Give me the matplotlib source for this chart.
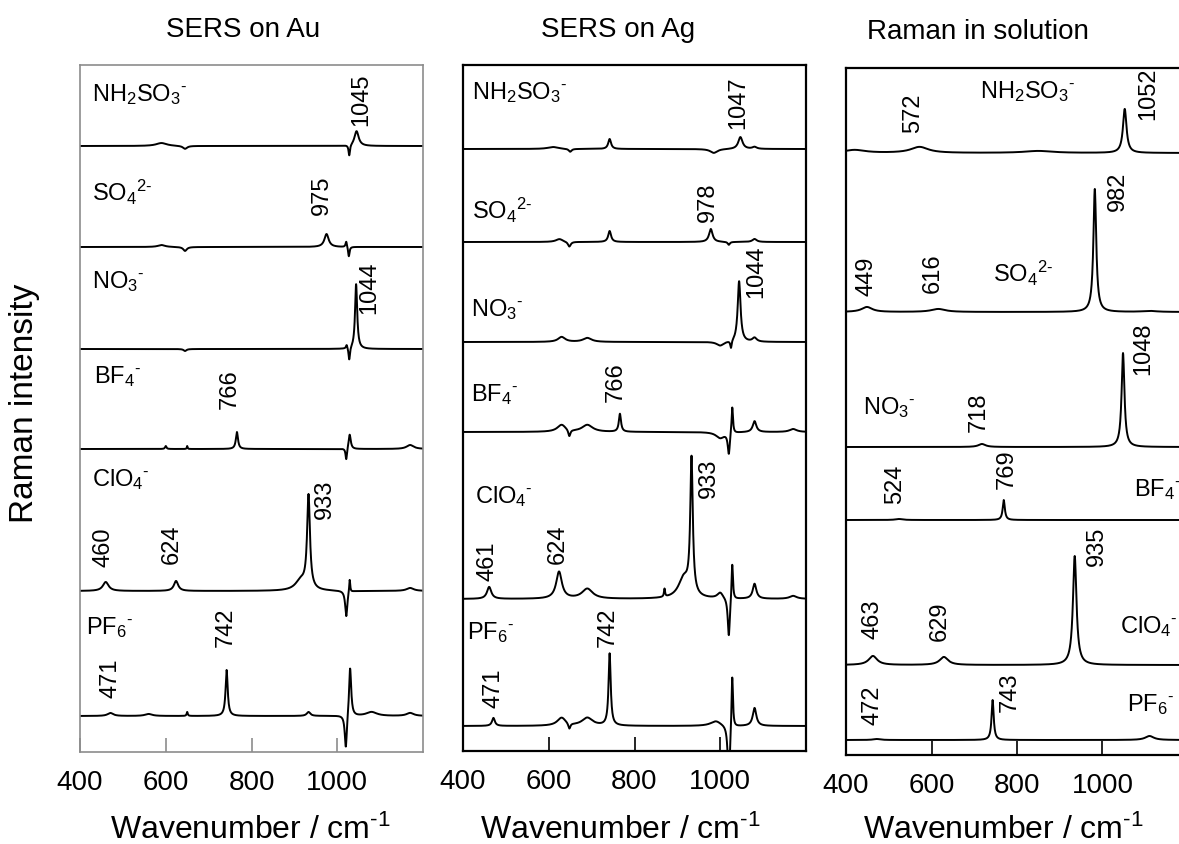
import numpy as np
import matplotlib.pyplot as plt

plt.rcParams['font.family'] = ['Liberation Sans', 'DejaVu Sans']
plt.rcParams['mathtext.fontset'] = 'custom'
plt.rcParams['mathtext.rm'] = 'Liberation Sans'
plt.rcParams['mathtext.it'] = 'Liberation Sans:italic'
plt.rcParams['mathtext.bf'] = 'Liberation Sans:bold'

W, H = 1179, 845

wavenumber = np.arange(400, 1200.5, 0.5)

names = [r'NH$_2$SO$_3$$^{\text{-}}$', r'SO$_4$$^{2\text{-}}$', r'NO$_3$$^{\text{-}}$',
         r'BF$_4$$^{\text{-}}$', r'ClO$_4$$^{\text{-}}$', r'PF$_6$$^{\text{-}}$']

# bands as (position / cm-1, height, half width); negative height = dip
au_peaks = [
    [(1045, 15, 6), (1028, -11, 2), (590, 3, 15), (645, -3, 6)],
    [(975, 13, 6), (1021, 6, 2), (1027, -10, 2), (645, -4, 5), (590, 2, 10)],
    [(1044, 65, 3), (1022, 4, 2), (1028, -13, 2), (645, -2, 4)],
    [(766, 17, 3), (1021, -12, 2), (1029, 15, 3), (600, 3, 2), (650, 3, 1), (1170, 4, 10)],
    [(933, 93, 4), (915, 10, 15), (460, 9, 8), (624, 10, 6), (1021, -26, 3), (1029, 14, 1.5), (1170, 3, 10)],
    [(742, 46, 3), (471, 3, 8), (560, 2, 10), (650, 4, 1.5), (933, 4, 5), (1020, -35, 3),
     (1030, 50, 3), (1080, 4, 15), (1170, 3, 10)],
]
au_bands = [[1045], [975], [1044], [766], [460, 624, 933], [471, 742]]

ag_peaks = [
    [(742, 10, 4), (1047, 12, 6), (985, -4, 10), (610, 2, 15), (650, -3, 4), (1080, 2, 6)],
    [(742, 11, 4), (978, 13, 5), (625, 3, 10), (648, -5, 4), (1080, 3, 6), (1020, -3, 3)],
    [(1044, 61, 4), (1025, -8, 2), (630, 5, 10), (690, 4, 12), (1080, 4, 6), (1000, -4, 10)],
    [(766, 18, 3), (1020, -22, 3), (1028, 28, 2), (1080, 11, 5), (630, 7, 12), (648, -7, 3),
     (690, 7, 15), (1000, -6, 12), (1170, 3, 10)],
    [(933, 135, 3.5), (915, 20, 15), (461, 12, 6), (624, 27, 8), (690, 10, 15), (870, 8, 1.5),
     (1000, 6, 8), (1020, -40, 3), (1028, 38, 2), (1080, 15, 5), (1170, 3, 10)],
    [(742, 72, 3), (471, 8, 4), (630, 8, 12), (648, -6, 3), (690, 8, 15), (990, 5, 15),
     (1020, -60, 3), (1028, 55, 2), (1080, 18, 5)],
]
ag_bands = [[1047], [978], [1044], [766], [461, 624, 933], [471, 742]]

sol_peaks = [
    [(1052, 44, 5), (572, 6, 25), (850, 2, 40), (420, 3, 30)],
    [(982, 123, 4), (449, 5, 15), (616, 3, 20), (1110, 1, 20)],
    [(1048, 94, 4), (718, 3, 10)],
    [(769, 20, 3), (524, 1, 10)],
    [(935, 109, 5), (463, 9, 12), (629, 8, 12)],
    [(743, 40, 3), (472, 1, 10), (1110, 4, 12)],
]
sol_bands = [[572, 1052], [449, 616, 982], [718, 1048], [524, 769], [463, 629, 935], [472, 743]]


def spectrum(peaks):
    y = np.zeros_like(wavenumber)
    for pos, h, g in peaks:
        y += h * g ** 2 / ((wavenumber - pos) ** 2 + g ** 2)
    return y


# layout in pixels: axes box (left, top, right, bottom), trace baselines,
# species label spots and band label spots (shift in cm-1, y)
panels = [
    dict(title='SERS on Au', title_x=243, title_y=30, xlabel_x=250,
         box=(80, 66, 423, 753), spine='#8c8c8c', lw_spine=1.2,
         peaks=au_peaks, bands=au_bands,
         base=[147, 248, 350, 450, 592, 717],
         name_pos=[(92, 95), (92, 192), (92, 282), (94, 377), (92, 480), (86, 628)],
         band_pos=[[(11, 100)], [(-10, 195)], [(31, 288)], [(-17, 389)],
                   [(-6, 547), (-10, 544), (38, 499)], [(0, 678), (-2, 627)]]),
    dict(title='SERS on Ag', title_x=618, title_y=30, xlabel_x=620,
         box=(463, 66, 806, 752), spine='black', lw_spine=1.6,
         peaks=ag_peaks, bands=ag_bands,
         base=[150, 243, 343, 433, 600, 727],
         name_pos=[(472, 93), (472, 210), (471, 310), (471, 395), (475, 497), (467, 633)],
         band_pos=[[(-6, 103)], [(-7, 202)], [(40, 272)], [(-10, 382)],
                   [(-5, 561), (-2, 544), (40, 478)], [(0, 688), (-5, 627)]]),
    dict(title='Raman in solution', title_x=978, title_y=32, xlabel_x=1003,
         box=(846, 69, 1188, 756), spine='black', lw_spine=1.6,
         peaks=sol_peaks, bands=sol_bands,
         base=[154, 313, 448, 521, 666, 741],
         name_pos=[(980, 92), (993, 273), (863, 408), (1134, 490), (1120, 627), (1127, 705)],
         band_pos=[[(-15, 113), (55, 94)], [(0, 276), (-14, 273), (55, 191)],
                   [(-7, 412), (47, 349)], [(-9, 484), (8, 469)],
                   [(0, 619), (-9, 621), (52, 546)], [(-11, 705), (41, 692)]]),
]

fig = plt.figure(figsize=(W / 100, H / 100), dpi=100)

for p in panels:
    left, top, right, bottom = p['box']
    ax = fig.add_axes([left / W, 1 - bottom / H, (right - left) / W, (bottom - top) / H])
    ax.set_xlim(400, 1200)
    ax.set_ylim(0, bottom - top)

    def to_x(px):
        return 400 + (px - left) / (right - left) * 800

    for i in range(6):
        y = spectrum(p['peaks'][i]) + (bottom - p['base'][i])
        ax.plot(wavenumber, y, color='black', lw=1.4)
        nx, ny = p['name_pos'][i]
        ax.text(to_x(nx), bottom - ny, names[i], fontsize=17, ha='left', va='center')
        for band, (dx, by) in zip(p['bands'][i], p['band_pos'][i]):
            ax.text(band + dx, bottom - by, str(band), fontsize=17, rotation=90,
                    ha='center', va='center')

    for s in ax.spines.values():
        s.set_color(p['spine'])
        s.set_linewidth(p['lw_spine'])
    ax.set_yticks([])
    ax.set_xticks([400, 600, 800, 1000])
    ax.tick_params(axis='x', direction='in', length=10, width=1.2, labelsize=20,
                   pad=12, colors='black')
    ax.tick_params(axis='x', color=p['spine'])

    fig.text(p['title_x'] / W, 1 - p['title_y'] / H, p['title'], fontsize=20,
             ha='center', va='center')
    fig.text(p['xlabel_x'] / W, 1 - 830 / H, r'Wavenumber / cm$^{\text{-}1}$', fontsize=23,
             ha='center', va='center')

fig.text(25 / W, 1 - 403 / H, 'Raman intensity', fontsize=24, rotation=90,
         ha='center', va='center')

fig.savefig('out.png', dpi=100)
